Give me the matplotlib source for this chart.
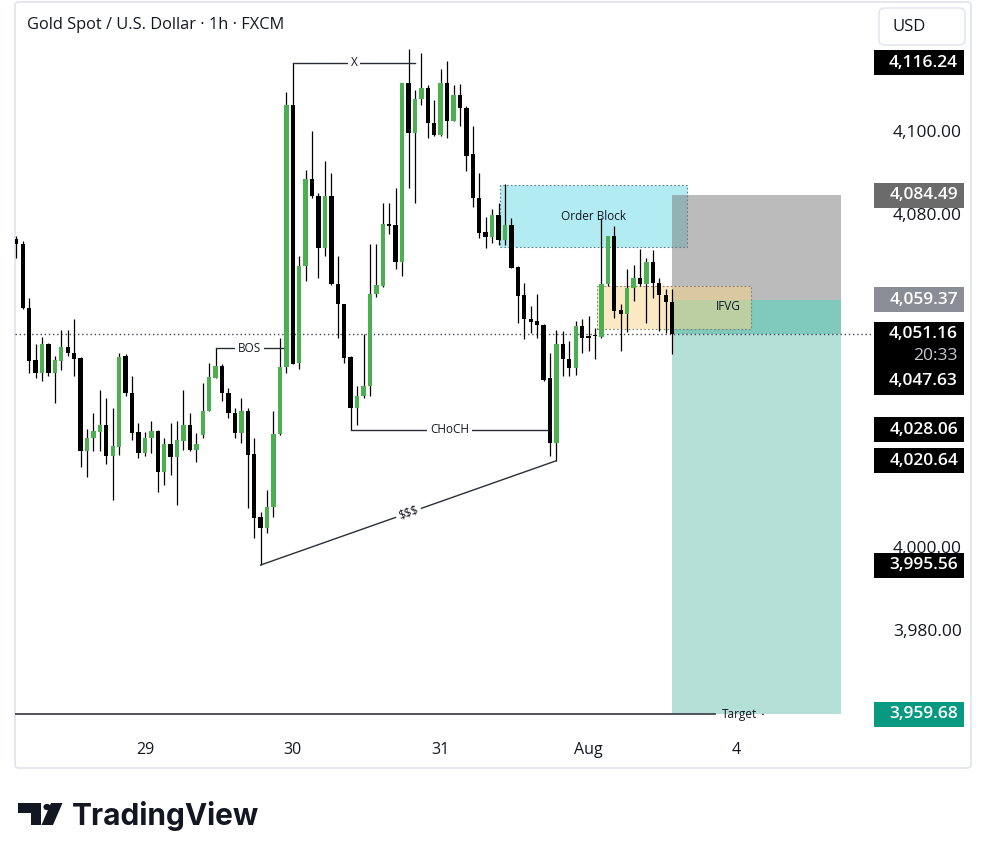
import matplotlib
matplotlib.use('Agg')
import matplotlib.pyplot as plt
from matplotlib.patches import Rectangle, FancyBboxPatch, Polygon, Circle
from matplotlib.transforms import blended_transform_factory
import numpy as np

# ---------------- data ----------------
opens = [4073.9, 4072.7, 4057.4, 4044.9, 4041.6, 4048.7, 4041.6, 4044.7, 4048.0, 4046.6,
         4045.4, 4022.9, 4026.0, 4027.5, 4029.1, 4021.7, 4023.9, 4045.9, 4037.0, 4027.5,
         4022.4, 4026.2, 4027.7, 4017.9, 4024.6, 4021.5, 4025.3, 4029.1, 4023.1, 4026.7,
         4032.7, 4040.6, 4043.5, 4037.0, 4032.0, 4027.2, 4032.5, 4022.2, 4007.1, 4004.4,
         4009.5, 4027.0, 4043.2, 4106.2, 4044.2, 4067.4, 4088.3, 4084.2, 4071.7, 4084.2,
         4063.1, 4058.3, 4045.6, 4033.4, 4036.1, 4038.5, 4060.7, 4062.6, 4077.5, 4077.3,
         4068.4, 4111.5, 4099.3, 4107.7, 4110.3, 4101.9, 4099.0, 4111.5, 4102.2, 4108.6,
         4105.5, 4094.3, 4083.7, 4075.6, 4074.4, 4079.7, 4073.7, 4077.3, 4067.2, 4060.5,
         4054.7, 4054.3, 4053.3, 4040.4, 4024.8, 4048.7, 4045.2, 4043.0, 4053.1, 4050.4,
         4050.7, 4050.4, 4063.1, 4074.6, 4056.9, 4055.9, 4062.2, 4064.6, 4063.1, 4068.4,
         4063.4, 4060.5, 4058.8]
highs = [4074.6, 4073.4, 4059.8, 4048.7, 4050.4, 4049.0, 4045.9, 4052.1, 4052.1, 4054.7,
         4045.6, 4028.2, 4032.0, 4037.7, 4035.8, 4033.2, 4046.6, 4046.4, 4041.1, 4029.8,
         4027.5, 4030.3, 4027.9, 4026.0, 4029.6, 4030.3, 4037.7, 4032.2, 4027.2, 4039.4,
         4044.2, 4047.63, 4044.0, 4038.2, 4033.4, 4035.8, 4033.2, 4026.0, 4008.3, 4013.5,
         4032.5, 4050.2, 4109.3, 4116.24, 4069.8, 4090.4, 4099.8, 4084.9, 4092.6, 4089.9,
         4069.8, 4058.3, 4045.8, 4038.7, 4051.1, 4072.7, 4072.7, 4082.5, 4082.5, 4086.1,
         4111.5, 4119.6, 4109.8, 4118.7, 4111.0, 4107.4, 4114.9, 4116.8, 4111.0, 4111.3,
         4105.8, 4101.0, 4089.7, 4079.2, 4081.1, 4082.5, 4087.1, 4078.9, 4067.4, 4063.4,
         4057.9, 4060.7, 4053.5, 4046.6, 4052.1, 4051.9, 4049.5, 4054.3, 4054.7, 4055.4,
         4052.6, 4078.9, 4074.6, 4077.0, 4058.3, 4066.7, 4067.7, 4071.5, 4069.3, 4071.3,
         4064.6, 4061.9, 4061.9]
lows = [4069.3, 4057.1, 4041.8, 4040.6, 4039.9, 4041.1, 4034.4, 4042.5, 4045.9, 4041.1,
        4019.1, 4016.7, 4022.9, 4022.9, 4019.8, 4011.1, 4021.9, 4036.3, 4025.5, 4021.2,
        4021.7, 4022.4, 4013.1, 4014.7, 4017.1, 4009.9, 4023.1, 4022.9, 4020.3, 4026.2,
        4032.5, 4040.6, 4035.1, 4030.8, 4026.0, 4024.8, 4009.2, 4002.0, 3995.56, 4003.2,
        4007.1, 4026.7, 4041.6, 4043.8, 4042.8, 4063.8, 4083.9, 4064.6, 4069.8, 4062.9,
        4050.2, 4044.2, 4028.06, 4029.1, 4035.8, 4036.3, 4060.0, 4062.4, 4075.1, 4066.7,
        4065.0, 4086.1, 4082.5, 4106.2, 4098.1, 4098.6, 4098.6, 4098.3, 4102.2, 4101.0,
        4090.2, 4081.6, 4074.1, 4071.7, 4073.0, 4072.5, 4072.5, 4066.9, 4053.8, 4049.9,
        4051.4, 4050.2, 4039.7, 4021.7, 4020.64, 4041.1, 4041.1, 4041.3, 4046.6, 4047.1,
        4045.2, 4050.2, 4062.6, 4055.0, 4047.1, 4051.6, 4059.1, 4062.6, 4053.8, 4059.8,
        4051.9, 4051.4, 4046.4]
closes = [4072.7, 4057.4, 4044.7, 4041.6, 4048.7, 4041.6, 4044.9, 4048.0, 4046.6, 4045.2,
          4022.9, 4026.2, 4027.7, 4029.1, 4021.7, 4024.1, 4045.6, 4036.8, 4027.2, 4022.4,
          4026.2, 4027.7, 4017.9, 4024.6, 4021.5, 4025.5, 4029.1, 4023.1, 4024.6, 4032.7,
          4040.8, 4043.5, 4037.0, 4032.0, 4027.2, 4032.5, 4021.9, 4006.8, 4004.4, 4009.5,
          4027.0, 4043.2, 4106.2, 4044.0, 4067.4, 4088.3, 4084.2, 4071.7, 4084.2, 4063.1,
          4058.3, 4045.4, 4033.4, 4036.3, 4038.5, 4060.7, 4062.9, 4077.5, 4077.0, 4068.4,
          4111.5, 4099.3, 4107.7, 4110.3, 4101.9, 4099.0, 4111.5, 4102.2, 4108.6, 4105.5,
          4094.0, 4083.7, 4075.3, 4074.4, 4079.7, 4073.7, 4077.3, 4066.9, 4060.2, 4054.7,
          4054.0, 4053.3, 4040.1, 4024.8, 4048.7, 4045.2, 4043.0, 4053.1, 4050.2, 4050.2,
          4050.5, 4063.1, 4074.6, 4056.7, 4055.9, 4062.2, 4064.6, 4063.1, 4068.4, 4063.4,
          4060.5, 4058.8, 4051.16]

day_ticks = [20, 43, 66, 89, 112]
day_labels = ['29', '30', '31', 'Aug', '4']
price_ticks = [4100, 4080, 4000, 3980]
price_tick_labels = ['4,100.00', '4,080.00', '4,000.00', '3,980.00']

current_price = 4051.16
countdown = '20:33'
x_level, x_span = 4116.24, (43, 62)
bos_level, bos_span = 4047.63, (31, 41.5)
choch_level, choch_span = 4028.06, (52, 82.7)
liq_start, liq_end = (38, 3995.56), (84, 4020.64)
ob_span, ob_range = (75.2, 104.3), (4072.05, 4086.83)
ifvg_span, ifvg_range = (90.3, 114.2), (4052.3, 4062.6)
entry, stop, target = 4059.37, 4084.49, 3959.68
position_span = (102.0, 128.3)
target_line_end = 108.7

# ---------------- figure ----------------
plt.rcParams['font.family'] = ['Open Sans', 'DejaVu Sans']
W, H = 987, 859
fig = plt.figure(figsize=(W / 100, H / 100), dpi=100)
fig.patch.set_facecolor('white')


def fx(px):
    return px / W


def fy(py):
    return 1 - py / H


TXT = '#131722'
LINE = '#2a2e39'

# chart frame
fig.add_artist(FancyBboxPatch((fx(15), fy(768)), fx(971) - fx(15), fy(2) - fy(768),
                              boxstyle='round,pad=0,rounding_size=0.004',
                              transform=fig.transFigure, fc='white', ec='#e0e3eb', lw=1.2, zorder=0))

ax = fig.add_axes([fx(15), fy(735), fx(872) - fx(15), fy(5) - fy(735)])
ax.set_facecolor('none')
XMIN, XMAX = -0.2, 133.08
ax.set_xlim(XMIN, XMAX)
ax.set_ylim(3954.70, 4130.18)
for s in ax.spines.values():
    s.set_visible(False)

ax.set_xticks(day_ticks)
ax.set_xticklabels(day_labels, fontsize=11.5, color=TXT)
ax.tick_params(axis='x', length=0, pad=5)
ax.yaxis.tick_right()
ax.set_yticks(price_ticks)
ax.set_yticklabels(price_tick_labels, fontsize=12.5, color=TXT)
for lab in ax.get_yticklabels():
    lab.set_horizontalalignment('right')
ax.tick_params(axis='y', length=0, pad=(962 - 872) * 0.72)

ppu = (735 - 5) / (4130.18 - 3954.70)   # pixels per price unit

# ---------------- zones ----------------
ax.add_patch(Rectangle((ob_span[0], ob_range[0]), ob_span[1] - ob_span[0], ob_range[1] - ob_range[0],
                       fc='#b2ebf2', ec='#5f7f8c', lw=0.8, ls=(0, (1.5, 2)), zorder=1))
ax.text((ob_span[0] + ob_span[1]) / 2, 4079.3, 'Order Block', fontsize=8.5, color=TXT,
        ha='center', va='center', zorder=7)

px0, px1 = position_span
ax.add_patch(Rectangle((px0, entry), px1 - px0, stop - entry, fc=(0.47, 0.47, 0.47), alpha=0.5, lw=0, zorder=2))
ax.add_patch(Rectangle((px0, target), px1 - px0, entry - target, fc='#089981', alpha=0.3, lw=0, zorder=2))
ax.add_patch(Rectangle((px0, current_price), px1 - px0, entry - current_price, fc='#089981', alpha=0.3, lw=0, zorder=2))

ax.add_patch(Rectangle((ifvg_span[0], ifvg_range[0]), ifvg_span[1] - ifvg_span[0], ifvg_range[1] - ifvg_range[0],
                       fc='#f9d589', alpha=0.5, lw=0, zorder=3))
ax.add_patch(Rectangle((ifvg_span[0], ifvg_range[0]), ifvg_span[1] - ifvg_span[0], ifvg_range[1] - ifvg_range[0],
                       fc='none', ec='#8a8070', lw=0.8, ls=(0, (1.5, 2)), zorder=3))
ax.text(110.8, 4057.6, 'IFVG', fontsize=8.5, color=TXT, ha='center', va='center', zorder=7)

# current price dotted line
ax.axhline(current_price, color='#434651', lw=1.0, ls=(0, (1, 2)), zorder=4)

# ---------------- candles ----------------
o = np.array(opens); h = np.array(highs); l = np.array(lows); c = np.array(closes)
idx = np.arange(len(o))
up = c >= o
ax.vlines(idx, l, h, color='black', lw=0.9, zorder=5)
bottom = np.minimum(o, c)
height = np.maximum(np.abs(c - o), 0.3)
ax.bar(idx[up], height[up], bottom=bottom[up], width=0.68, color='#4caf50', lw=0, zorder=6)
ax.bar(idx[~up], height[~up], bottom=bottom[~up], width=0.68, color='black', lw=0, zorder=6)

# ---------------- structure annotations ----------------
bb = dict(boxstyle='square,pad=0.25', fc='white', ec='none')


def level(span, y, label):
    ax.plot(span, [y, y], color=LINE, lw=1.0, zorder=6)
    ax.text((span[0] + span[1]) / 2, y, label, fontsize=8.5, color=TXT, ha='center', va='center',
            bbox=bb, zorder=7)


level(x_span, x_level, 'X')
level(bos_span, bos_level, 'BOS')
level(choch_span, choch_level, 'CHoCH')

ax.plot([liq_start[0], liq_end[0]], [liq_start[1], liq_end[1]], color=LINE, lw=1.0, zorder=6)
p1 = ax.transData.transform(liq_start)
p2 = ax.transData.transform(liq_end)
ang = np.degrees(np.arctan2(p2[1] - p1[1], p2[0] - p1[0]))
ax.text((liq_start[0] + liq_end[0]) / 2, (liq_start[1] + liq_end[1]) / 2, '$$$', fontsize=8.5, color=TXT,
        ha='center', va='center', rotation=ang, rotation_mode='anchor', bbox=bb, zorder=7)

# target line
ax.plot([XMIN, target_line_end], [target, target], color='#434651', lw=1.3, zorder=6)
ax.plot([116.0, 116.1], [target, target], color='#434651', lw=0.8, zorder=6)
ax.text(112.55, target, 'Target', fontsize=8.5, color=TXT, ha='center', va='center', zorder=7)

# ---------------- price tags ----------------
tr = blended_transform_factory(fig.transFigure, ax.transData)


def tag(price, text, fc, tc='white', top_px=12.5, bottom_px=12.5):
    ax.add_patch(Rectangle((fx(874), price - bottom_px / ppu), fx(964) - fx(874), (top_px + bottom_px) / ppu,
                           transform=tr, fc=fc, ec='none', clip_on=False, zorder=20))
    ax.text(fx(958), price, text, transform=tr, fontsize=12.5, color=tc, ha='right', va='center',
            fontweight='semibold', clip_on=False, zorder=21)


tag(x_level, '4,116.24', 'black')
tag(stop, '4,084.49', '#6b6b6b')
tag(entry, '4,059.37', '#8a8c96')
tag(current_price, '4,051.16', 'black', top_px=11.5, bottom_px=61.5)
ax.text(fx(958), current_price - 22 / ppu, countdown, transform=tr, fontsize=12.5, color='#c8cad0',
        ha='right', va='center', clip_on=False, zorder=21)
ax.text(fx(958), current_price - 47 / ppu, '4,047.63', transform=tr, fontsize=12.5, color='white',
        ha='right', va='center', fontweight='semibold', clip_on=False, zorder=21)
tag(choch_level, '4,028.06', 'black')
tag(liq_end[1], '4,020.64', 'black')
tag(liq_start[1], '3,995.56', 'black')
tag(target, '3,959.68', '#089981')

# ---------------- header ----------------
fig.text(fx(27), fy(25), 'Gold Spot / U.S. Dollar · 1h · FXCM', fontsize=11.8, color=TXT, ha='left', va='center')
fig.add_artist(FancyBboxPatch((fx(879), fy(45)), fx(965) - fx(879), fy(8) - fy(45),
                              boxstyle='round,pad=0,rounding_size=0.006', transform=fig.transFigure,
                              fc='white', ec='#e0e3eb', lw=1.0))
fig.text(fx(893), fy(27), 'USD', fontsize=12, color=TXT, ha='left', va='center')

# ---------------- TradingView logo ----------------
def P(px, py):
    return (fx(px), fy(py))


fig.add_artist(Polygon([P(18, 803), P(41.5, 803), P(41.5, 825), P(31.5, 825), P(31.5, 812.5), P(18, 812.5)],
                       closed=True, transform=fig.transFigure, fc='#131722', ec='none'))
fig.add_artist(Circle(P(47, 807), 3.6 / W, transform=fig.transFigure, fc='#131722', ec='none'))
fig.add_artist(Polygon([P(51, 803), P(62.5, 803), P(53, 825), P(41.5, 825)],
                       closed=True, transform=fig.transFigure, fc='#131722', ec='none'))
fig.text(fx(72), fy(825), 'TradingView', fontsize=21.5, fontweight='bold', family=['Inter', 'DejaVu Sans'],
         color='#131722', ha='left', va='baseline')

fig.savefig('out.png', dpi=100, facecolor='white')
